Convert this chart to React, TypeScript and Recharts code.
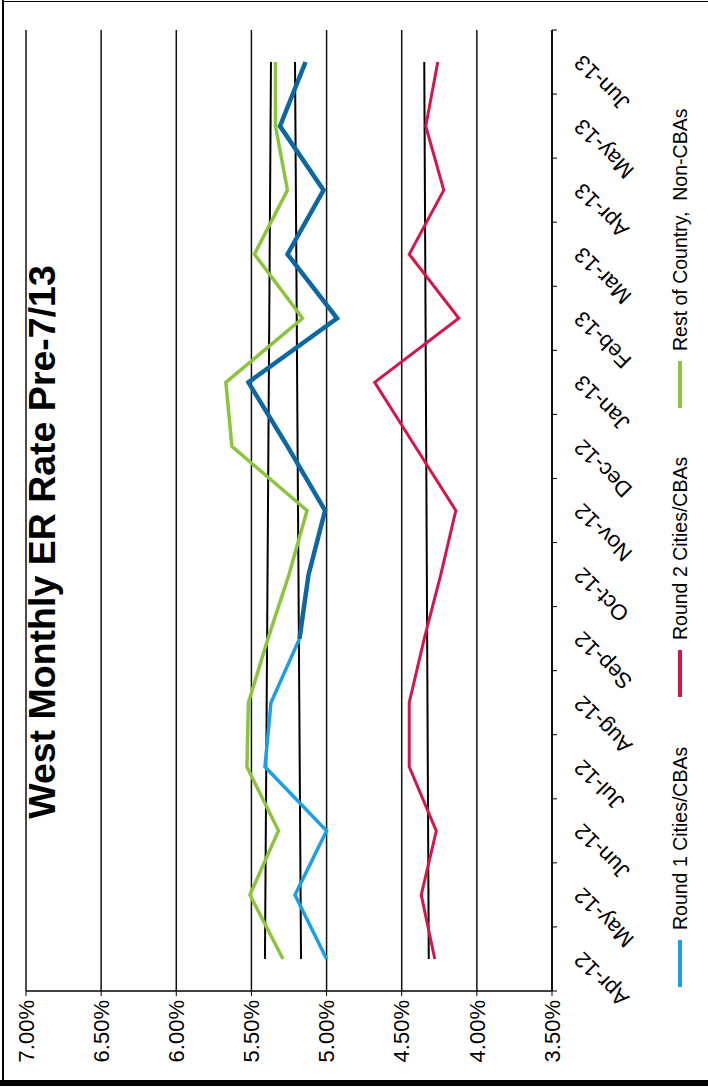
import React from "react";
import {
  LineChart,
  Line,
  XAxis,
  YAxis,
  CartesianGrid,
  ReferenceLine,
} from "recharts";

// months on the category axis
const months = [
  "Apr-12", "May-12", "Jun-12", "Jul-12", "Aug-12", "Sep-12", "Oct-12", "Nov-12",
  "Dec-12", "Jan-13", "Feb-13", "Mar-13", "Apr-13", "May-13", "Jun-13",
];

// ER rate, percent
const round1 = [5.0, 5.21, 5.0, 5.41, 5.37, 5.18, 5.12, 5.01, 5.26, 5.52, 4.93, 5.26, 5.02, 5.31, 5.14];
const round2 = [4.28, 4.37, 4.27, 4.45, 4.45, 4.35, 4.24, 4.14, 4.41, 4.68, 4.12, 4.45, 4.22, 4.34, 4.26];
const restOfCountry = [5.29, 5.51, 5.32, 5.53, 5.52, 5.39, 5.25, 5.13, 5.63, 5.67, 5.16, 5.48, 5.26, 5.34, 5.34];

// trend lines, [first month, last month]
const round1Trend = [5.17, 5.21];
const round2Trend = [4.32, 4.35];
const restTrend = [5.41, 5.37];

const yTicks = [3.5, 4.0, 4.5, 5.0, 5.5, 6.0, 6.5, 7.0];

const seriesNames = ["Round 1 Cities/CBAs", "Round 2 Cities/CBAs", "Rest of Country,  Non-CBAs"];
const seriesColors = ["#1c9fe6", "#d3164b", "#8dc43d"];

// the printed round 1 line switches to a darker blue from Sep-12
const SPLIT = 5;

const data = months.map((m, i) => ({
  month: m,
  round1Early: i <= SPLIT ? round1[i] : null,
  round1Late: i >= SPLIT ? round1[i] : null,
  round2: round2[i],
  rest: restOfCountry[i],
}));

// chart is laid out landscape, then turned a quarter turn to fit the portrait page
const W = 1089;
const H = 708;
const MARGIN = { top: 26, right: 30, left: 38, bottom: 43 };
const Y_AXIS_W = 60;
const BAND = (W - MARGIN.left - MARGIN.right - Y_AXIS_W) / months.length;
const FONT = "'Liberation Sans', Arial, sans-serif";

const CategoryTick = (props: any) => {
  const { x, y, payload, index } = props;
  const half = BAND / 2;
  const top = y - 5;
  const ty = y + 21;
  return (
    <g>
      <line x1={x - half} x2={x - half} y1={top} y2={top + 5} stroke="#000" />
      {index === months.length - 1 && (
        <line x1={x + half} x2={x + half} y1={top} y2={top + 5} stroke="#000" />
      )}
      <text
        x={x + 3}
        y={ty}
        dy="0.35em"
        textAnchor="end"
        transform={`rotate(-45, ${x + 3}, ${ty})`}
        style={{ fontSize: "22px", fontFamily: FONT }}
        fill="#000"
      >
        {payload.value}
      </text>
    </g>
  );
};

const ValueTick = (props: any) => {
  const { x, y, payload } = props;
  return (
    <text x={x} y={y} dy="0.35em" textAnchor="end" style={{ fontSize: "22px", fontFamily: FONT }} fill="#000">
      {`${payload.value.toFixed(2)}%`}
    </text>
  );
};

const LEGEND_LEFT = [102, 392, 681];

export default function App() {
  const last = months[months.length - 1];
  return (
    <div style={{ position: "absolute", top: 0, left: 0, width: 708, height: 1089, background: "#fff", overflow: "hidden" }}>
      <div
        style={{
          position: "absolute",
          top: 0,
          left: 0,
          width: W,
          height: H,
          transform: `translateY(${W}px) rotate(-90deg)`,
          transformOrigin: "0 0",
        }}
      >
        <div
          style={{
            position: "absolute",
            left: 147,
            top: 24,
            width: 800,
            textAlign: "center",
            fontFamily: FONT,
            fontWeight: "bold",
            fontSize: 37.5,
            lineHeight: 1,
            zIndex: 1,
          }}
        >
          West Monthly ER Rate Pre-7/13
        </div>
        <LineChart width={W} height={H} data={data} margin={MARGIN}>
          <CartesianGrid vertical={false} stroke="#111" strokeWidth={1.5} />
          <XAxis
            dataKey="month"
            scale="band"
            interval={0}
            height={113}
            tickSize={5}
            tickMargin={0}
            tickLine={false}
            axisLine={{ stroke: "#000", strokeWidth: 1.5 }}
            tick={<CategoryTick />}
          />
          <YAxis
            type="number"
            domain={[3.5, 7]}
            ticks={yTicks}
            width={Y_AXIS_W}
            tickSize={5}
            tickMargin={4}
            tickLine={{ stroke: "#000" }}
            axisLine={{ stroke: "#000", strokeWidth: 1.5 }}
            tick={<ValueTick />}
          />
          <ReferenceLine
            segment={[{ x: months[0], y: restTrend[0] }, { x: last, y: restTrend[1] }]}
            stroke="#000"
            strokeWidth={2}
          />
          <ReferenceLine
            segment={[{ x: months[0], y: round1Trend[0] }, { x: last, y: round1Trend[1] }]}
            stroke="#000"
            strokeWidth={2}
          />
          <ReferenceLine
            segment={[{ x: months[0], y: round2Trend[0] }, { x: last, y: round2Trend[1] }]}
            stroke="#000"
            strokeWidth={2}
          />
          <Line
            dataKey="round1Early"
            name={seriesNames[0]}
            stroke={seriesColors[0]}
            strokeWidth={3.5}
            dot={false}
            isAnimationActive={false}
          />
          <Line
            dataKey="round1Late"
            name={seriesNames[0]}
            stroke="#0b68a2"
            strokeWidth={4.5}
            dot={false}
            isAnimationActive={false}
          />
          <Line
            dataKey="round2"
            name={seriesNames[1]}
            stroke={seriesColors[1]}
            strokeWidth={3}
            dot={false}
            isAnimationActive={false}
          />
          <Line
            dataKey="rest"
            name={seriesNames[2]}
            stroke={seriesColors[2]}
            strokeWidth={3.5}
            dot={false}
            isAnimationActive={false}
          />
        </LineChart>
        {/* legend drawn as plain html: Recharts measures its Legend box, which breaks under the rotation */}
        {seriesNames.map((name, i) => (
          <div
            key={name}
            style={{
              position: "absolute",
              left: LEGEND_LEFT[i],
              top: 665,
              height: 30,
              display: "flex",
              alignItems: "center",
              whiteSpace: "pre",
              fontFamily: FONT,
              fontSize: 19.5,
            }}
          >
            <span style={{ display: "inline-block", width: 47, height: 4, background: seriesColors[i] }} />
            <span style={{ marginLeft: 10 }}>{name}</span>
          </div>
        ))}
      </div>
      <div style={{ position: "absolute", left: 2, top: 0, width: 2, height: 1084, background: "#000" }} />
      <div style={{ position: "absolute", left: 2, top: 1, width: 706, height: 1, background: "#000" }} />
      <div style={{ position: "absolute", left: 0, top: 1080, width: 708, height: 6, background: "#000" }} />
    </div>
  );
}
